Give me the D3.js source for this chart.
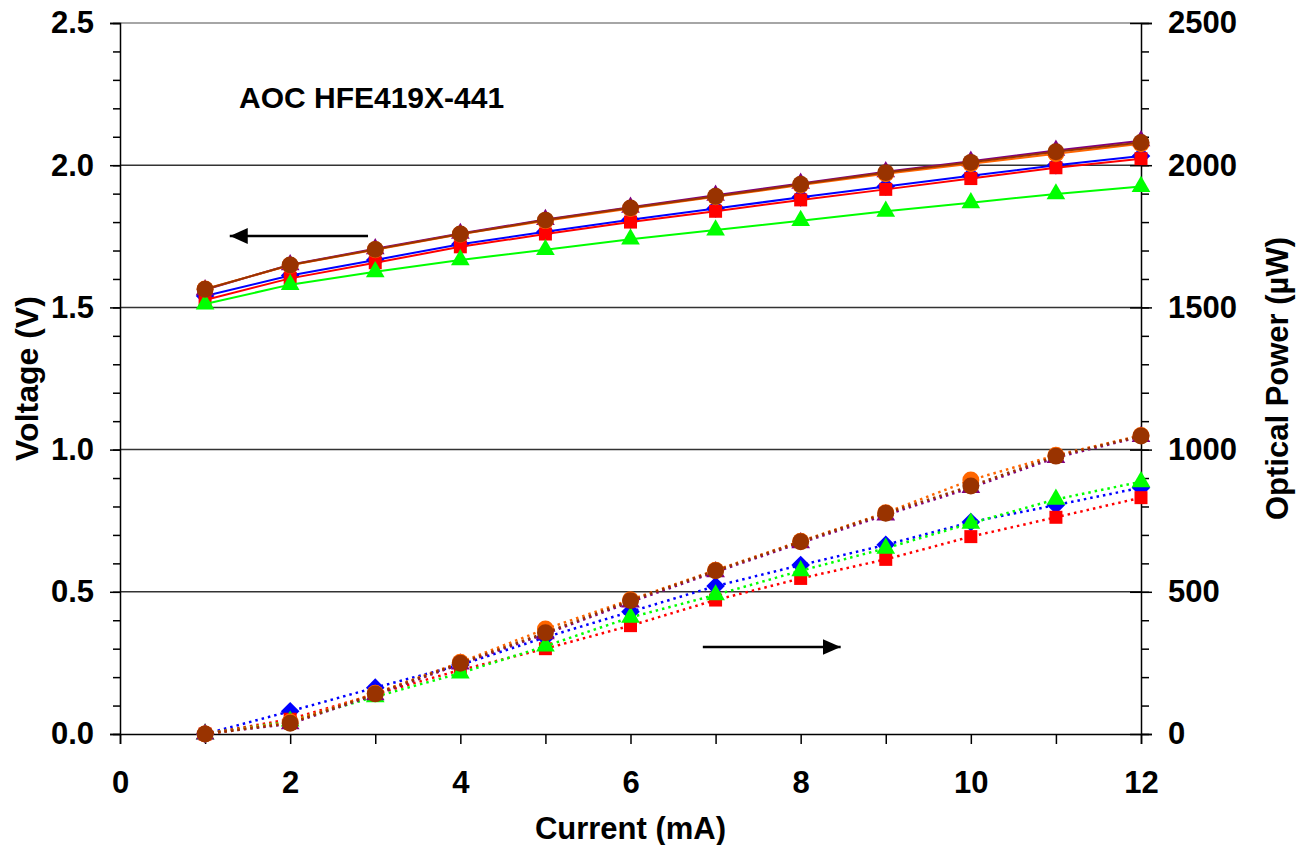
<!DOCTYPE html>
<html>
<head>
<meta charset="utf-8">
<script src="https://cdn.jsdelivr.net/npm/d3@7"></script>
<style>
  body { margin: 0; background: #fff; }
  text { font-family: "Liberation Sans", Arial, sans-serif; font-weight: bold; }
</style>
</head>
<body>
<div id="chart-area"></div>
<script>
// data
let current = [1, 2, 3, 4, 5, 6, 7, 8, 9, 10, 11, 12]

let voltBlue   = [1.540, 1.612, 1.667, 1.722, 1.766, 1.808, 1.848, 1.887, 1.925, 1.963, 2.000, 2.032]
let voltRed    = [1.526, 1.602, 1.657, 1.713, 1.758, 1.800, 1.838, 1.878, 1.915, 1.953, 1.991, 2.023]
let voltGreen  = [1.512, 1.580, 1.625, 1.667, 1.703, 1.740, 1.772, 1.805, 1.838, 1.868, 1.899, 1.925]
let voltPurple = [1.562, 1.650, 1.706, 1.760, 1.809, 1.852, 1.894, 1.936, 1.977, 2.014, 2.052, 2.086]
let voltOrange = [1.565, 1.648, 1.703, 1.757, 1.805, 1.848, 1.889, 1.930, 1.970, 2.005, 2.040, 2.075]
let voltBrown  = [1.564, 1.649, 1.704, 1.758, 1.807, 1.850, 1.891, 1.933, 1.974, 2.010, 2.047, 2.080]

let powBlue   = [0, 80, 163, 243, 340, 430, 520, 594, 665, 745, 805, 866]
let powRed    = [0, 52, 140, 225, 300, 381, 471, 547, 614, 694, 762, 831]
let powGreen  = [0, 45, 131, 214, 309, 410, 489, 574, 653, 741, 825, 887]
let powPurple = [0, 36, 138, 246, 352, 464, 570, 672, 770, 866, 972, 1046]
let powOrange = [0, 42, 143, 252, 369, 472, 576, 678, 778, 893, 980, 1050]
let powBrown  = [0, 38, 141, 249, 356, 469, 574, 676, 776, 872, 977, 1048]

let voltTicks = [0, 0.5, 1.0, 1.5, 2.0, 2.5]
let powTicks = [0, 500, 1000, 1500, 2000, 2500]
let currentTicks = [0, 1, 2, 3, 4, 5, 6, 7, 8, 9, 10, 11, 12]

let series = [
  { color: "#0000ff", shape: d3.symbolDiamond2, size: 220, volt: voltBlue, pow: powBlue },
  { color: "#ff0000", shape: d3.symbolSquare2, size: 215, volt: voltRed, pow: powRed },
  { color: "#00ff00", shape: d3.symbolTriangle2, size: 250, volt: voltGreen, pow: powGreen },
  { color: "#800080", shape: d3.symbolTriangle2, size: 250, volt: voltPurple, pow: powPurple },
  { color: "#ff6600", shape: d3.symbolCircle, size: 225, volt: voltOrange, pow: powOrange },
  { color: "#993300", shape: d3.symbolCircle, size: 225, volt: voltBrown, pow: powBrown }
]

let W = 1298, H = 845
let plotL = 120, plotR = 1141, plotT = 23, plotB = 734

let svg = d3.select("#chart-area").append("svg")
            .attr("width", W)
            .attr("height", H)

let x = d3.scaleLinear().domain([0, 12]).range([plotL, plotR])
let yV = d3.scaleLinear().domain([0, 2.5]).range([plotB, plotT])
let yP = d3.scaleLinear().domain([0, 2500]).range([plotB, plotT])

// gridlines
svg.selectAll("line.grid")
   .data(voltTicks.slice(1))
   .enter()
   .append("line")
   .attr("x1", plotL).attr("x2", plotR)
   .attr("y1", d => yV(d)).attr("y2", d => yV(d))
   .attr("stroke", d => d === 2.5 ? "#888" : "#333")
   .attr("stroke-width", 1.5)

// left axis, minor ticks then major
svg.append("g")
   .attr("class", "tk")
   .attr("transform", `translate(${plotL},0)`)
   .call(d3.axisLeft(yV).tickValues(d3.range(0, 26).map(d => d / 10)).tickSize(7).tickFormat(""))
   .call(g => g.select(".domain").remove())
svg.append("g")
   .attr("class", "axis tk")
   .attr("transform", `translate(${plotL},0)`)
   .call(d3.axisLeft(yV).tickValues(voltTicks).tickSize(10).tickPadding(16).tickFormat(d3.format(".1f")))

// right axis
svg.append("g")
   .attr("class", "tk")
   .attr("transform", `translate(${plotR},0)`)
   .call(d3.axisRight(yP).tickValues(d3.range(0, 2501, 100)).tickSize(8).tickFormat(""))
   .call(g => g.select(".domain").remove())
svg.append("g")
   .attr("class", "tk")
   .attr("transform", `translate(${plotR},0)`)
   .call(d3.axisLeft(yP).tickValues(powTicks).tickSize(11).tickFormat(""))
   .call(g => g.select(".domain").remove())
svg.append("g")
   .attr("class", "axis tk")
   .attr("transform", `translate(${plotR},0)`)
   .call(d3.axisRight(yP).tickValues(powTicks).tickSize(11).tickPadding(16).tickFormat(d3.format("d")))

// bottom axis
svg.append("g")
   .attr("class", "axis tk")
   .attr("transform", `translate(0,${plotB})`)
   .call(d3.axisBottom(x).tickValues(currentTicks).tickSize(10).tickPadding(27)
          .tickFormat(d => d % 2 === 0 ? d : ""))

svg.selectAll(".axis text")
   .attr("font-size", 31)
   .attr("font-family", "'Liberation Sans', Arial, sans-serif")
   .attr("font-weight", "bold")
   .attr("fill", "#000")
svg.selectAll(".tk line, .tk path").attr("stroke", "#000").attr("stroke-width", 1.5)

// series
let lineV = d3.line().x((d, i) => x(current[i])).y(d => yV(d))
let lineP = d3.line().x((d, i) => x(current[i])).y(d => yP(d))

series.forEach(s => {
  let g = svg.append("g")
  g.append("path")
   .attr("d", lineV(s.volt))
   .attr("fill", "none")
   .attr("stroke", s.color)
   .attr("stroke-width", 2)
  g.append("path")
   .attr("d", lineP(s.pow))
   .attr("fill", "none")
   .attr("stroke", s.color)
   .attr("stroke-width", 2.5)
   .attr("stroke-dasharray", "2.5,4")
  let sym = d3.symbol().type(s.shape).size(s.size)
  g.selectAll("path.mv")
   .data(s.volt)
   .enter()
   .append("path")
   .attr("d", sym)
   .attr("transform", (d, i) => `translate(${x(current[i])},${yV(d)})`)
   .attr("fill", s.color)
  g.selectAll("path.mp")
   .data(s.pow)
   .enter()
   .append("path")
   .attr("d", sym)
   .attr("transform", (d, i) => `translate(${x(current[i])},${yP(d)})`)
   .attr("fill", s.color)
})

// arrows
svg.append("defs").append("marker")
   .attr("id", "head")
   .attr("viewBox", "0 0 10 10")
   .attr("refX", 10).attr("refY", 5)
   .attr("markerWidth", 18).attr("markerHeight", 16)
   .attr("markerUnits", "userSpaceOnUse")
   .attr("preserveAspectRatio", "none")
   .attr("orient", "auto")
   .append("path")
   .attr("d", "M0,0L10,5L0,10Z")
   .attr("fill", "#000")

svg.append("line")
   .attr("x1", x(2.915)).attr("x2", x(1.29))
   .attr("y1", yV(1.751)).attr("y2", yV(1.751))
   .attr("stroke", "#000").attr("stroke-width", 2.5)
   .attr("marker-end", "url(#head)")
svg.append("line")
   .attr("x1", x(6.85)).attr("x2", x(8.47))
   .attr("y1", yP(306)).attr("y2", yP(306))
   .attr("stroke", "#000").attr("stroke-width", 2.5)
   .attr("marker-end", "url(#head)")

// texts
svg.append("text")
   .attr("x", 239).attr("y", 108)
   .attr("font-size", 30)
   .text("AOC HFE419X-441")

svg.append("text")
   .attr("x", (plotL + plotR) / 2).attr("y", 839)
   .attr("text-anchor", "middle")
   .attr("font-size", 31)
   .text("Current (mA)")

svg.append("text")
   .attr("transform", `translate(38,${(plotT + plotB) / 2}) rotate(-90)`)
   .attr("text-anchor", "middle")
   .attr("font-size", 32)
   .text("Voltage (V)")

svg.append("text")
   .attr("transform", `translate(1288,${(plotT + plotB) / 2}) rotate(-90)`)
   .attr("text-anchor", "middle")
   .attr("font-size", 31)
   .text("Optical Power (\u00b5W)")
</script>
</body>
</html>
